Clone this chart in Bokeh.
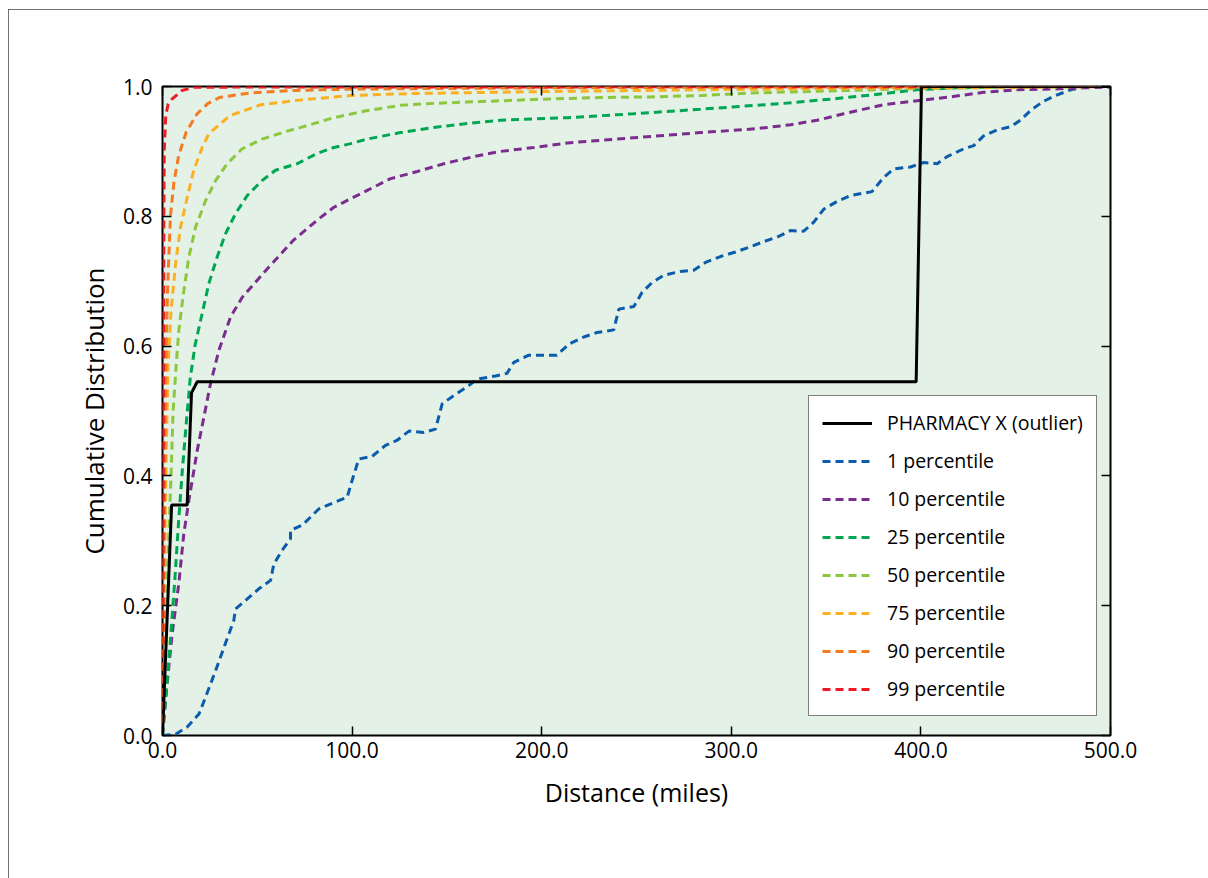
from bokeh.plotting import figure
from bokeh.models import Range1d, LinearAxis, FixedTicker, PrintfTickFormatter, Legend, LegendItem
from bokeh.embed import file_html
from bokeh.resources import INLINE

# ---------------- data ----------------
pharmacy_x = [0, 4.8, 13.0, 15.3, 18.3, 397.5, 400.3, 500]
pharmacy_y = [0, 0.355, 0.355, 0.528, 0.545, 0.545, 1.0, 1.0]

p1_x = [0, 6.9, 13, 19.2, 22.7, 28, 33.2, 37.6, 38.5, 43.8, 50.8, 57, 58.7, 63, 67.5, 67.5, 73.7, 82.4,
        91.2, 97.4, 100, 103.5, 110.5, 117.6, 123.8, 130, 137.8, 144, 147.5, 153.7, 161.5, 165.9, 175.6,
        181.7, 185.3, 193.2, 208, 214.3, 222.2, 229.2, 238, 240.7, 248.6, 253, 258.2, 264.4, 273, 280.2,
        286.4, 294.3, 302.2, 309.2, 317.1, 325, 331.2, 338.2, 343.5, 348.8, 355.8, 362.9, 374.2, 380.4,
        385.7, 394.5, 401.5, 408.6, 413.8, 422.6, 427.9, 433.1, 440.1, 447.3, 452.5, 457.8, 464, 470,
        479, 484.2, 490, 500]
p1_y = [0, 0.002, 0.013, 0.033, 0.059, 0.1, 0.142, 0.177, 0.195, 0.208, 0.226, 0.239, 0.264, 0.285,
        0.303, 0.316, 0.324, 0.349, 0.36, 0.367, 0.393, 0.426, 0.43, 0.447, 0.455, 0.469, 0.467, 0.472,
        0.511, 0.524, 0.539, 0.549, 0.554, 0.558, 0.575, 0.586, 0.586, 0.603, 0.614, 0.621, 0.625, 0.657,
        0.661, 0.683, 0.698, 0.709, 0.715, 0.717, 0.729, 0.738, 0.745, 0.752, 0.761, 0.769, 0.778, 0.777,
        0.791, 0.811, 0.823, 0.832, 0.838, 0.86, 0.873, 0.876, 0.883, 0.881, 0.892, 0.904, 0.909, 0.924,
        0.933, 0.938, 0.948, 0.963, 0.976, 0.985, 0.995, 0.998, 1.0, 1.0]

p10_x = [0, 1.6, 3.3, 5.1, 8.6, 11.2, 13.9, 18.3, 21.8, 25.3, 29.7, 35.9, 42, 54, 69, 81.6, 90.4, 99.2,
         108, 120.3, 134.3, 148.4, 164.2, 178.3, 195.9, 213.5, 231, 248.6, 266.2, 283.8, 313.5, 331.2,
         345.3, 359.3, 380.4, 398, 415.6, 433.1, 450.7, 468.4, 485.8, 500]
p10_y = [0, 0.054, 0.105, 0.157, 0.234, 0.31, 0.362, 0.439, 0.49, 0.542, 0.593, 0.645, 0.675, 0.715,
         0.763, 0.794, 0.814, 0.827, 0.84, 0.858, 0.869, 0.881, 0.892, 0.9, 0.906, 0.913, 0.917, 0.921,
         0.925, 0.929, 0.935, 0.941, 0.948, 0.958, 0.972, 0.978, 0.984, 0.991, 0.995, 0.996, 0.998, 0.999]

p25_x = [0, 2.5, 4.5, 6.5, 8.5, 10.5, 12.5, 14.6, 17.2, 20.9, 24.4, 28.8, 33.2, 38.5, 44.7, 52.5, 59.6,
         71, 81.6, 90.4, 99.2, 108, 125.5, 143.1, 160.7, 178.3, 213.5, 248.6, 283.8, 327.6, 354, 380.4,
         398, 420, 450, 500]
p25_y = [0, 0.085, 0.16, 0.24, 0.33, 0.41, 0.48, 0.55, 0.602, 0.65, 0.696, 0.737, 0.773, 0.804, 0.832,
         0.855, 0.871, 0.881, 0.897, 0.906, 0.912, 0.919, 0.929, 0.937, 0.943, 0.948, 0.952, 0.958,
         0.965, 0.974, 0.981, 0.989, 0.995, 0.998, 1.0, 1.0]

p50_x = [0, 0.9, 1.9, 3.2, 4.5, 5.6, 7.2, 8.6, 11, 13.9, 17.4, 22.7, 28, 34.1, 42, 52.5, 66.6, 73, 90.4,
         108, 125.5, 143, 160.7, 196, 231, 257, 284, 310, 363, 400, 450, 500]
p50_y = [0, 0.1, 0.2, 0.3, 0.4, 0.5, 0.57, 0.624, 0.68, 0.737, 0.783, 0.824, 0.855, 0.881, 0.904,
         0.919, 0.932, 0.937, 0.952, 0.963, 0.971, 0.974, 0.976, 0.98, 0.983, 0.984, 0.986, 0.99, 0.994,
         0.997, 0.999, 1.0]

p75_x = [0, 0.8, 1.5, 2.2, 3.0, 4.4, 6.9, 9.5, 13, 16.5, 20.9, 24.4, 35.5, 52, 72, 99, 129, 196, 284,
         400, 500]
p75_y = [0, 0.2, 0.35, 0.47, 0.573, 0.65, 0.727, 0.783, 0.829, 0.871, 0.906, 0.927, 0.955, 0.972,
         0.979, 0.986, 0.989, 0.992, 0.995, 0.998, 1.0]

p90_x = [0, 0.5, 1.0, 1.5, 2.0, 2.7, 4.2, 6.0, 8.5, 12.5, 18.3, 24, 30, 46, 70, 100, 200, 300, 500]
p90_y = [0, 0.2, 0.35, 0.5, 0.6, 0.69, 0.8, 0.852, 0.893, 0.93, 0.958, 0.974, 0.983, 0.99, 0.994,
         0.996, 0.998, 0.999, 1.0]

p99_x = [0, 0.3, 0.6, 0.7, 0.9, 1.7, 3.0, 5.1, 10.4, 17, 500]
p99_y = [0, 0.3, 0.6, 0.8, 0.9, 0.955, 0.973, 0.981, 0.994, 0.999, 1.0]

series_names = ["1 percentile", "10 percentile", "25 percentile", "50 percentile",
                "75 percentile", "90 percentile", "99 percentile"]
series_colors = ["#0b5cab", "#7b2d8e", "#00a651", "#8dc63f", "#fbb021", "#f47b20", "#ed1c24"]
series_xs = [p1_x, p10_x, p25_x, p50_x, p75_x, p90_x, p99_x]
series_ys = [p1_y, p10_y, p25_y, p50_y, p75_y, p90_y, p99_y]

x_ticks = [0, 100, 200, 300, 400, 500]
y_ticks = [0, 0.2, 0.4, 0.6, 0.8, 1.0]

FONT = "Open Sans"

p = figure(width=1200, height=869, output_backend="svg", toolbar_location=None,
           x_range=Range1d(0, 500), y_range=Range1d(0, 1),
           min_border_left=154, min_border_right=98, min_border_top=77, min_border_bottom=143,
           x_axis_label="Distance (miles)", y_axis_label="Cumulative Distribution")
p.styles = {"margin-left": "8px", "margin-top": "9px",
            "outline": "1.5px solid #444", "outline-offset": "-1.5px"}
p.background_fill_color = "#e3f1e7"
p.border_fill_color = "white"
p.outline_line_color = "black"
p.outline_line_width = 2
p.grid.visible = False

for ax, ticks in ((p.xaxis[0], x_ticks), (p.yaxis[0], y_ticks)):
    ax.ticker = FixedTicker(ticks=ticks)
    ax.formatter = PrintfTickFormatter(format="%.1f")
    ax.major_tick_in = 9
    ax.major_tick_out = 0
    ax.major_tick_line_width = 1.5
    ax.minor_tick_line_color = None
    ax.axis_line_color = None
    ax.major_label_text_font = FONT
    ax.major_label_text_font_size = "21px"
    ax.major_label_text_color = "black"
    ax.axis_label_text_font = FONT
    ax.axis_label_text_font_style = "normal"
    ax.axis_label_text_color = "black"
p.xaxis[0].axis_label_text_font_size = "25px"
p.yaxis[0].axis_label_text_font_size = "26px"
p.xaxis[0].major_label_standoff = 6
p.xaxis[0].axis_label_standoff = 14
p.yaxis[0].major_label_standoff = 10
p.yaxis[0].axis_label_standoff = 8

for loc, ticks in (("above", x_ticks), ("right", y_ticks)):
    ax = LinearAxis(ticker=FixedTicker(ticks=ticks), major_tick_in=9, major_tick_out=0,
                    major_tick_line_width=1.5, minor_tick_line_color=None, axis_line_color=None,
                    major_label_text_color=None)
    p.add_layout(ax, loc)

items = []
for name, color, xs, ys in zip(series_names, series_colors, series_xs, series_ys):
    r = p.line(xs, ys, line_color=color, line_width=3, line_dash="8 5")
    items.append(LegendItem(label=name, renderers=[r]))

rb = p.line(pharmacy_x, pharmacy_y, line_color="black", line_width=3)
items.insert(0, LegendItem(label="PHARMACY X (outlier)", renderers=[rb]))

legend = Legend(items=items, location=(646, 19))
legend.glyph_width = 50
legend.glyph_height = 26
legend.label_height = 26
legend.spacing = 11
legend.padding = 13
legend.margin = 0
legend.label_standoff = 15
legend.label_text_font = FONT
legend.label_text_font_size = "19.5px"
legend.label_text_color = "black"
legend.border_line_color = "black"
legend.border_line_width = 1.5
legend.background_fill_color = "white"
legend.background_fill_alpha = 1.0
p.add_layout(legend, "center")

open("out.html", "w").write(file_html(p, INLINE))
